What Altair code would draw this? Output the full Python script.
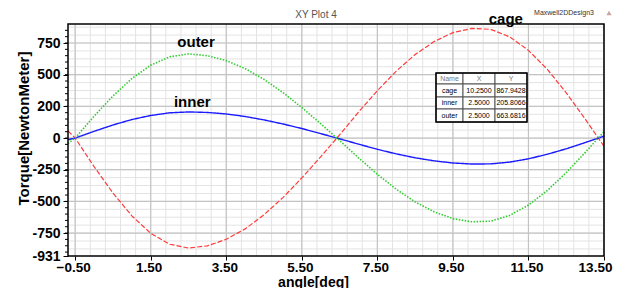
import altair as alt
import pandas as pd
import numpy as np

# ---- data ----
angle = [-0.69, -0.5, 0.0, 0.5, 1.0, 1.5, 2.0, 2.5, 3.0, 3.5, 4.0, 4.5, 5.0, 5.5, 6.0,
         6.5, 7.0, 7.5, 8.0, 8.5, 9.0, 9.5, 10.0, 10.5, 11.0, 11.5, 12.0, 12.5, 13.0, 13.5]
cage = [56, 0, -225, -434, -614, -752, -838, -868, -851, -799, -717, -605, -470, -315, -148,
        25, 204, 374, 528, 659, 761, 832, 865, 858, 799, 692, 542, 357, 151, -65]
inner = [-13, 0, 53, 103, 146, 178, 199, 206, 202, 190, 170, 143, 111, 75, 35,
         -6, -48, -89, -125, -156, -180, -197, -205, -204, -190, -164, -128, -85, -36, 15]
outer = [-43, 0, 172, 332, 469, 575, 641, 664, 650, 611, 548, 463, 359, 241, 113,
         -19, -156, -286, -404, -504, -582, -636, -661, -656, -611, -529, -414, -273, -115, 50]

x_ticks = [-0.5, 1.5, 3.5, 5.5, 7.5, 9.5, 11.5, 13.5]
y_ticks = [750, 500, 250, 0, -250, -500, -750, -931]
y_tick_labels = {750: "750", 500: "500", 250: "200", 0: "0", -250: "-250",
                 -500: "-500", -750: "-750", -931: "-931"}

table_header = ["Name", "X", "Y"]
table_rows = [["cage", "10.2500", "867.9428"],
              ["inner", "2.5000", "205.8066"],
              ["outer", "2.5000", "663.6816"]]

curve_labels = ["outer", "inner", "cage"]
curve_label_x = [2.7, 2.6, 10.9]
curve_label_y = [758, 281, 937]

# ---- layout ----
W, H = 536, 232
X_DOM = [-0.69, 13.5]
Y_DOM = [-931, 900]
FONT = "Liberation Sans"

xs = alt.Scale(domain=X_DOM, nice=False, zero=False)
ys = alt.Scale(domain=Y_DOM, nice=False, zero=False)

df = pd.DataFrame({"angle": angle * 3,
                   "torque": cage + inner + outer,
                   "name": ["cage"] * len(angle) + ["inner"] * len(angle) + ["outer"] * len(angle)})

label_expr = " : ".join([f"datum.value == {k} ? '{v}'" for k, v in y_tick_labels.items()]) + " : ''"

axes_layer = alt.Chart(df).mark_point(opacity=0).encode(
    x=alt.X("angle:Q", scale=xs,
            axis=alt.Axis(values=x_ticks, format=".2f", title="angle[deg]", grid=False,
                          tickSize=4, tickColor="black", domain=False,
                          labelFont=FONT, labelFontSize=13.5, labelFontWeight="bold",
                          labelColor="black", labelPadding=0, labelFlush=False,
                          labelOffset={"condition": {"test": "datum.value == 13.5", "value": -9},
                                       "value": -2},
                          titleFont=FONT, titleFontSize=14, titleFontWeight="bold",
                          titleColor="black", titleX=245, titleY=30,
                          titleBaseline="alphabetic", titleAlign="center")),
    y=alt.Y("torque:Q", scale=ys,
            axis=alt.Axis(values=y_ticks, labelExpr=label_expr, title="Torque[NewtonMeter]",
                          grid=False, tickSize=5, tickColor="black", domain=False,
                          labelFont=FONT, labelFontSize=14, labelFontWeight="bold",
                          labelColor="black", labelPadding=3, labelFlush=False,
                          titleFont=FONT, titleFontSize=15, titleFontWeight="bold",
                          titleColor="black", titleX=-45, titleY=104, titleAngle=270,
                          titleBaseline="middle", titleAlign="center")),
)

# grid
minor_vx = pd.DataFrame({"v": np.round(np.arange(-0.5, 13.51, 0.4), 3)})
minor_hy = pd.DataFrame({"v": np.arange(-875, 900, 62.5)})
major_vx = pd.DataFrame({"v": x_ticks})
major_hy = pd.DataFrame({"v": [750, 500, 250, 0, -250, -500, -750]})
minor_ticks = pd.DataFrame({"v": np.arange(-900, 900, 50)})

g_minor_v = alt.Chart(minor_vx).mark_rule(color="#e3e3e3", strokeWidth=1).encode(
    x=alt.X("v:Q", scale=xs, axis=None))
g_minor_h = alt.Chart(minor_hy).mark_rule(color="#e3e3e3", strokeWidth=1).encode(
    y=alt.Y("v:Q", scale=ys, axis=None))
g_major_v = alt.Chart(major_vx).mark_rule(color="#c4c4c4", strokeWidth=1.2).encode(
    x=alt.X("v:Q", scale=xs, axis=None))
g_major_h = alt.Chart(major_hy).mark_rule(color="#c4c4c4", strokeWidth=1.2).encode(
    y=alt.Y("v:Q", scale=ys, axis=None))
g_minor_t = alt.Chart(minor_ticks).mark_rule(color="black", strokeWidth=1, clip=False).encode(
    y=alt.Y("v:Q", scale=ys, axis=None), x=alt.value(-3), x2=alt.value(0))

lines = alt.Chart(df).mark_line(clip=True).encode(
    x=alt.X("angle:Q", scale=xs, axis=None),
    y=alt.Y("torque:Q", scale=ys, axis=None),
    color=alt.Color("name:N", scale=alt.Scale(domain=["cage", "inner", "outer"],
                                               range=["#ff3b3b", "#1a1aff", "#33cc33"]),
                    legend=None),
    strokeDash=alt.StrokeDash("name:N", scale=alt.Scale(domain=["cage", "inner", "outer"],
                                                        range=[[5, 2], [1, 0], [1.5, 1.5]]),
                              legend=None),
    strokeWidth=alt.StrokeWidth("name:N", scale=alt.Scale(domain=["cage", "inner", "outer"],
                                                          range=[1.2, 1.6, 1.3]),
                                legend=None),
)

frame = alt.Chart(pd.DataFrame({"a": [0]})).mark_rect(fill=None, stroke="black", strokeWidth=1.5).encode(
    x=alt.value(0), x2=alt.value(W), y=alt.value(0), y2=alt.value(H))

lab_df = pd.DataFrame({"t": curve_labels, "x": curve_label_x, "y": curve_label_y})
labels = alt.Chart(lab_df).mark_text(font=FONT, fontSize=15, fontWeight="bold", color="black",
                                     clip=False).encode(
    x=alt.X("x:Q", scale=xs, axis=None), y=alt.Y("y:Q", scale=ys, axis=None), text="t:N")

title_t = alt.Chart(pd.DataFrame({"t": ["XY Plot 4"]})).mark_text(
    font=FONT, fontSize=10, color="#555555").encode(
    x=alt.value(248), y=alt.value(-9), text="t:N")
design_t = alt.Chart(pd.DataFrame({"t": ["Maxwell2DDesign3"]})).mark_text(
    font=FONT, fontSize=7, color="#333333").encode(
    x=alt.value(496), y=alt.value(-11), text="t:N")
icon = alt.Chart(pd.DataFrame({"a": [0]})).mark_point(
    shape="triangle-up", filled=True, color="#b08080", size=28, clip=False).encode(
    x=alt.value(541), y=alt.value(-11))

# legend table (pixel layout relative to plot area)
TX0, TY0 = 368, 49
col_w = [27, 32, 32]
row_h = [11, 13, 12, 13]
cells = []
for r, row in enumerate([table_header] + table_rows):
    for c, val in enumerate(row):
        x0 = TX0 + sum(col_w[:c])
        y0 = TY0 + sum(row_h[:r])
        cells.append({"x": x0, "x2": x0 + col_w[c], "y": y0, "y2": y0 + row_h[r],
                      "xc": x0 + col_w[c] / 2, "yc": y0 + row_h[r] / 2, "t": val,
                      "col": "#777777" if r == 0 else "black"})
cdf = pd.DataFrame(cells)
t_rect = alt.Chart(cdf).mark_rect(fill="white", stroke="#555555", strokeWidth=1).encode(
    x=alt.X("x:Q", scale=None, axis=None), x2="x2:Q", y=alt.Y("y:Q", scale=None, axis=None), y2="y2:Q")
t_border = alt.Chart(pd.DataFrame({"a": [0]})).mark_rect(fill=None, stroke="black", strokeWidth=1.5).encode(
    x=alt.value(TX0), x2=alt.value(TX0 + sum(col_w)), y=alt.value(TY0), y2=alt.value(TY0 + sum(row_h)))
t_text = alt.Chart(cdf).mark_text(font=FONT, fontSize=7).encode(
    x=alt.X("xc:Q", scale=None, axis=None), y=alt.Y("yc:Q", scale=None, axis=None), text="t:N",
    color=alt.Color("col:N", scale=None))

chart = alt.layer(
    g_minor_v, g_minor_h, g_major_v, g_major_h, lines, g_minor_t, frame, labels,
    title_t, design_t, icon, t_rect, t_border, t_text, axes_layer
).resolve_axis(x="independent", y="independent").properties(
    width=W, height=H,
    autosize=alt.AutoSizeParams(type="none"),
    padding={"left": 60, "top": 16, "right": 14, "bottom": 32},
    background="white",
).configure_view(stroke=None)

chart.save("out.html", embed_options={"renderer": "svg", "actions": False})
